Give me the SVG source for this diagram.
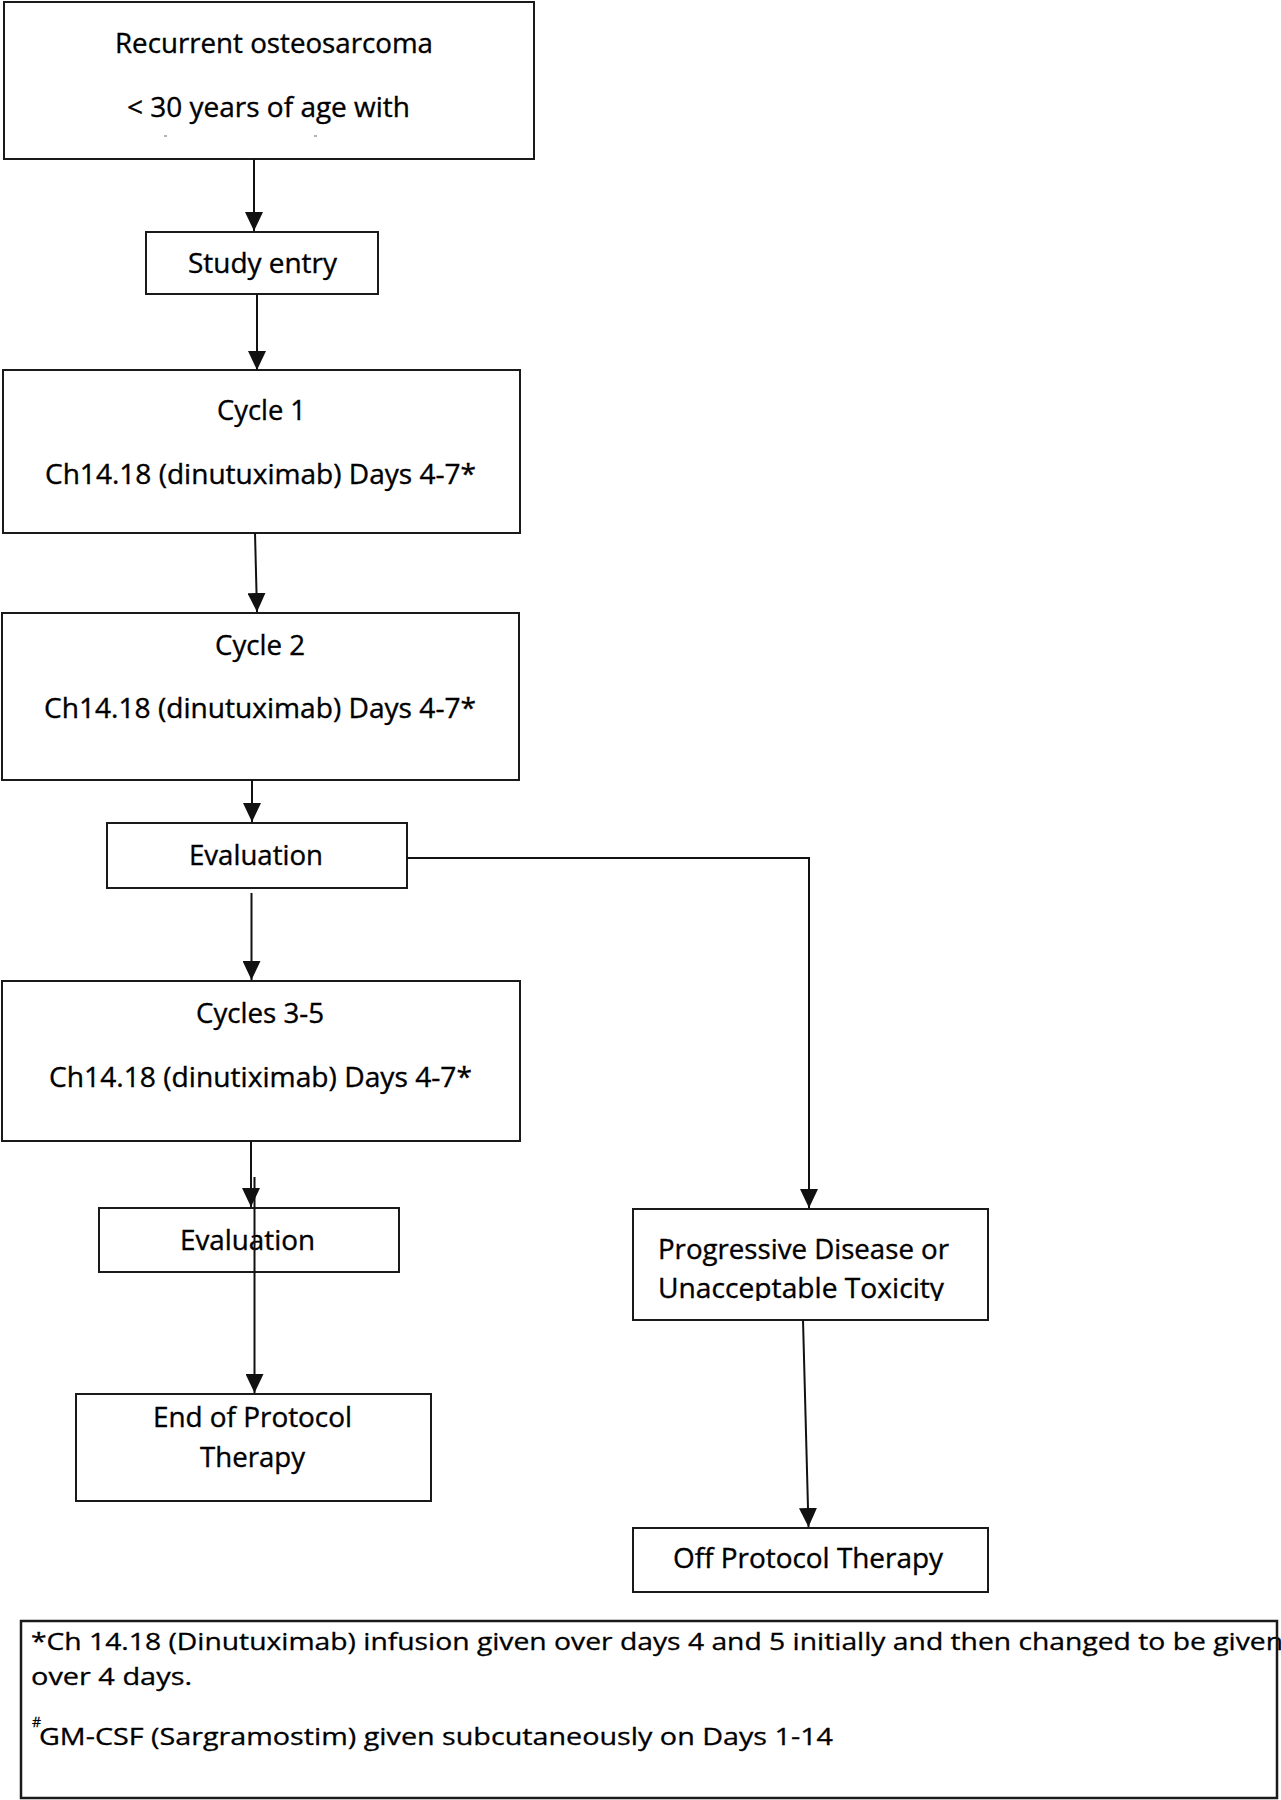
<svg xmlns="http://www.w3.org/2000/svg" width="1281" height="1800" viewBox="0 0 1281 1800">
  <style>
    .box { fill: #ffffff; stroke: #1a1a1a; stroke-width: 2; }
    .t { font-family: "Open Sans", "Liberation Sans", sans-serif; font-size: 26.5px; fill: #000000; stroke: #000000; stroke-width: 0.35; }
    .f { font-family: "Open Sans", "Liberation Sans", sans-serif; font-size: 23.5px; fill: #000000; stroke: #000000; stroke-width: 0.3; }
    .sup { font-size: 14px; }
    .conn { stroke: #111111; stroke-width: 2; fill: none; }
    .speck { stroke: #9a9a9a; stroke-width: 1.5; }
  </style>
  <defs>
    <marker id="arrow" viewBox="0 0 19 18" refX="19" refY="9" markerWidth="19" markerHeight="18" markerUnits="userSpaceOnUse" orient="auto">
      <path d="M0,0 L19,9 L0,18 z" fill="#111111"/>
    </marker>
    <clipPath id="clipProg">
      <rect x="633" y="1209" width="355" height="92"/>
    </clipPath>
  </defs>
  <rect x="0" y="0" width="1281" height="1800" fill="#ffffff"/>

  <g id="n-recurrent">
    <rect class="box" x="4" y="2" width="530" height="157"/>
    <text class="t" x="115" y="53" textLength="318" lengthAdjust="spacingAndGlyphs">Recurrent osteosarcoma</text>
    <text class="t" x="127" y="117" textLength="283" lengthAdjust="spacingAndGlyphs">&lt; 30 years of age with</text>
    <line class="speck" x1="164" y1="136" x2="167" y2="136"/>
    <line class="speck" x1="314" y1="136" x2="317" y2="136"/>
  </g>

  <g id="n-study-entry">
    <rect class="box" x="146" y="232" width="232" height="62"/>
    <text class="t" x="188" y="273" textLength="149" lengthAdjust="spacingAndGlyphs">Study entry</text>
  </g>

  <g id="n-cycle1">
    <rect class="box" x="3" y="370" width="517" height="163"/>
    <text class="t" x="217" y="420" textLength="89" lengthAdjust="spacingAndGlyphs">Cycle 1</text>
    <text class="t" x="45" y="484" textLength="431" lengthAdjust="spacingAndGlyphs">Ch14.18 (dinutuximab) Days 4-7*</text>
  </g>

  <g id="n-cycle2">
    <rect class="box" x="2" y="613" width="517" height="167"/>
    <text class="t" x="215" y="655" textLength="90" lengthAdjust="spacingAndGlyphs">Cycle 2</text>
    <text class="t" x="44" y="718" textLength="432" lengthAdjust="spacingAndGlyphs">Ch14.18 (dinutuximab) Days 4-7*</text>
  </g>

  <g id="n-eval1">
    <rect class="box" x="107" y="823" width="300" height="65"/>
    <text class="t" x="189" y="865" textLength="134" lengthAdjust="spacingAndGlyphs">Evaluation</text>
  </g>

  <g id="n-cycles35">
    <rect class="box" x="2" y="981" width="518" height="160"/>
    <text class="t" x="196" y="1023" textLength="128" lengthAdjust="spacingAndGlyphs">Cycles 3-5</text>
    <text class="t" x="49" y="1087" textLength="423" lengthAdjust="spacingAndGlyphs">Ch14.18 (dinutiximab) Days 4-7*</text>
  </g>

  <g id="n-eval2">
    <rect class="box" x="99" y="1208" width="300" height="64"/>
    <text class="t" x="180" y="1250" textLength="135" lengthAdjust="spacingAndGlyphs">Evaluation</text>
  </g>

  <g id="n-end">
    <rect class="box" x="76" y="1394" width="355" height="107"/>
    <text class="t" x="153" y="1427" textLength="199" lengthAdjust="spacingAndGlyphs">End of Protocol</text>
    <text class="t" x="200" y="1467" textLength="105" lengthAdjust="spacingAndGlyphs">Therapy</text>
  </g>

  <g id="n-progressive">
    <rect class="box" x="633" y="1209" width="355" height="111"/>
    <g clip-path="url(#clipProg)">
      <text class="t" x="658" y="1259" textLength="291" lengthAdjust="spacingAndGlyphs">Progressive Disease or</text>
      <text class="t" x="658" y="1298" textLength="286" lengthAdjust="spacingAndGlyphs">Unacceptable Toxicity</text>
    </g>
  </g>

  <g id="n-off">
    <rect class="box" x="633" y="1528" width="355" height="64"/>
    <text class="t" x="673" y="1568" textLength="270" lengthAdjust="spacingAndGlyphs">Off Protocol Therapy</text>
  </g>

  <g id="n-footnote">
    <text class="f" x="31" y="1650" textLength="1252" lengthAdjust="spacingAndGlyphs">*Ch 14.18 (Dinutuximab) infusion given over days 4 and 5 initially and then changed to be given</text>
    <text class="f" x="31" y="1685" textLength="161" lengthAdjust="spacingAndGlyphs">over 4 days.</text>
    <text class="f sup" x="32" y="1727">#</text>
    <text class="f" x="39" y="1745" textLength="794" lengthAdjust="spacingAndGlyphs">GM-CSF (Sargramostim) given subcutaneously on Days 1-14</text>
    <rect x="21" y="1621" width="1256" height="177" fill="none" stroke="#1a1a1a" stroke-width="2.5"/>
  </g>

  <g id="connectors">
    <line class="conn" x1="254" y1="159" x2="254" y2="231" marker-end="url(#arrow)"/>
    <line class="conn" x1="257" y1="294" x2="257" y2="370" marker-end="url(#arrow)"/>
    <line class="conn" x1="255" y1="533" x2="257" y2="612" marker-end="url(#arrow)"/>
    <line class="conn" x1="252" y1="780" x2="252" y2="822" marker-end="url(#arrow)"/>
    <line class="conn" x1="251.5" y1="893" x2="251.5" y2="980" marker-end="url(#arrow)"/>
    <line class="conn" x1="251" y1="1141" x2="251" y2="1207" marker-end="url(#arrow)"/>
    <line class="conn" x1="254.5" y1="1177" x2="254.5" y2="1393" marker-end="url(#arrow)"/>
    <polyline class="conn" points="407,858 809,858 809,1208" marker-end="url(#arrow)"/>
    <line class="conn" x1="803" y1="1320" x2="808.5" y2="1527" marker-end="url(#arrow)"/>
  </g>
</svg>
